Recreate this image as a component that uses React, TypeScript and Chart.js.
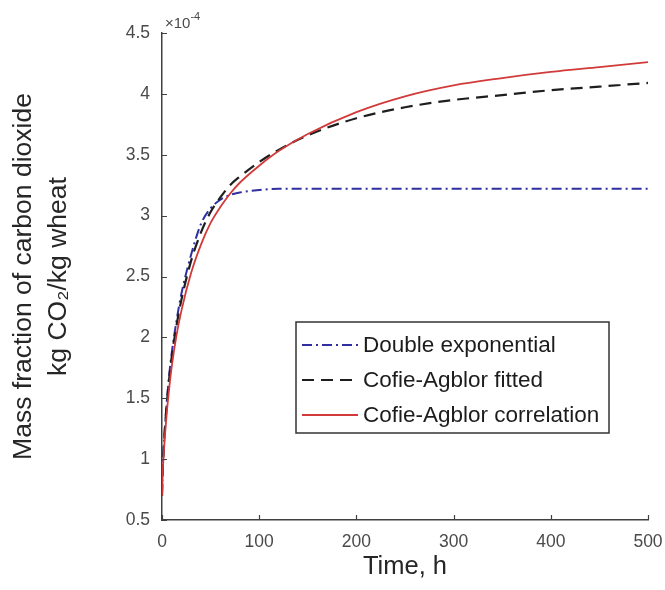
import React, { useEffect, useRef } from 'react';
import { Chart, registerables } from 'chart.js';

Chart.register(...registerables);

// Time, h
const timeH = [0, 0.5, 1, 2, 3, 5, 7.5, 10, 15, 20, 30, 40, 50, 60, 70, 80, 100, 120, 150, 200, 250, 300, 350, 400, 450, 500];
// Mass fraction of CO2, in units of 1e-4 kg CO2/kg wheat
const doubleExponential = [0.70, 0.86, 0.97, 1.13, 1.26, 1.48, 1.70, 1.87, 2.14, 2.36, 2.68, 2.93, 3.06, 3.13, 3.17, 3.19, 3.21, 3.22, 3.22, 3.22, 3.22, 3.22, 3.22, 3.22, 3.22, 3.22];
const cofieFitted = [0.70, 0.86, 0.96, 1.12, 1.25, 1.46, 1.67, 1.84, 2.10, 2.31, 2.63, 2.86, 3.03, 3.15, 3.25, 3.32, 3.44, 3.54, 3.66, 3.80, 3.89, 3.95, 3.99, 4.03, 4.06, 4.09];
const cofieCorrelation = [0.70, 0.83, 0.93, 1.07, 1.19, 1.39, 1.59, 1.76, 2.02, 2.22, 2.53, 2.76, 2.94, 3.07, 3.18, 3.27, 3.41, 3.53, 3.67, 3.85, 3.98, 4.07, 4.13, 4.18, 4.22, 4.26];

const seriesLabels = ['Double exponential', 'Cofie-Agblor fitted', 'Cofie-Agblor correlation'];
const xTicks = [0, 100, 200, 300, 400, 500];
const yTicks = [0.5, 1, 1.5, 2, 2.5, 3, 3.5, 4, 4.5];
const yExponent = '-4';

const FONT = '"Liberation Sans", Arial, Helvetica, sans-serif';
const AXIS_COLOR = '#404040';
const TICK_TEXT = '#4a4a4a';

const styles = [
  { color: '#2f2fa0', dash: [10, 4, 2, 4], width: 2 },
  { color: '#1e1e1e', dash: [12, 7], width: 2.2 },
  { color: '#d23a3a', dash: [] as number[], width: 1.8 },
];

const extrasPlugin = {
  id: 'extras',
  afterDraw(chart: any) {
    const ctx = chart.ctx;
    const xs = chart.scales.x;
    const ys = chart.scales.y;
    const area = chart.chartArea;
    ctx.save();
    // inward tick marks
    ctx.strokeStyle = AXIS_COLOR;
    ctx.lineWidth = 1.2;
    ctx.beginPath();
    xTicks.forEach((v) => {
      const px = Math.round(xs.getPixelForValue(v)) + 0.5;
      ctx.moveTo(px, area.bottom);
      ctx.lineTo(px, area.bottom - 5);
    });
    yTicks.forEach((v) => {
      const py = Math.round(ys.getPixelForValue(v)) + 0.5;
      ctx.moveTo(area.left, py);
      ctx.lineTo(area.left + 5, py);
    });
    ctx.stroke();

    // exponent label
    ctx.fillStyle = TICK_TEXT;
    ctx.textBaseline = 'alphabetic';
    ctx.textAlign = 'left';
    ctx.font = `15px ${FONT}`;
    const baseTxt = '\u00d710';
    ctx.fillText(baseTxt, area.left + 3, area.top - 5);
    const w = ctx.measureText(baseTxt).width;
    ctx.font = `11px ${FONT}`;
    ctx.fillText(yExponent, area.left + 3 + w, area.top - 13);

    // legend box
    const lx = 296, ly = 322, lw = 313, lh = 111;
    ctx.fillStyle = '#ffffff';
    ctx.fillRect(lx, ly, lw, lh);
    ctx.strokeStyle = '#333333';
    ctx.lineWidth = 1.5;
    ctx.strokeRect(lx, ly, lw, lh);
    const rowY = [345, 380, 415];
    chart.data.datasets.forEach((ds: any, i: number) => {
      const y = rowY[i];
      ctx.strokeStyle = ds.borderColor;
      ctx.lineWidth = ds.borderWidth;
      ctx.setLineDash(ds.borderDash || []);
      ctx.beginPath();
      ctx.moveTo(lx + 6, y);
      ctx.lineTo(lx + 62, y);
      ctx.stroke();
      ctx.setLineDash([]);
      ctx.fillStyle = '#1c1c1c';
      ctx.font = `22.5px ${FONT}`;
      ctx.textBaseline = 'middle';
      ctx.fillText(ds.label, lx + 67, y + 1);
    });
    ctx.restore();
  },
};

export default function App() {
  const ref = useRef<HTMLCanvasElement>(null);
  useEffect(() => {
    if (!ref.current) return;
    const mk = (vals: number[]) => timeH.map((t, i) => ({ x: t, y: vals[i] }));
    const all = [doubleExponential, cofieFitted, cofieCorrelation];
    const chart = new Chart(ref.current, {
      type: 'line',
      data: {
        datasets: all.map((vals, i) => ({
          label: seriesLabels[i],
          data: mk(vals),
          borderColor: styles[i].color,
          borderDash: styles[i].dash,
          borderWidth: styles[i].width,
          pointRadius: 0,
          fill: false,
          cubicInterpolationMode: 'monotone' as const,
          order: 2 - i,
        })),
      },
      options: {
        responsive: false,
        animation: false,
        layout: { padding: { left: 0, top: 33, right: 17, bottom: 0 } },
        plugins: { legend: { display: false }, tooltip: { enabled: false } },
        scales: {
          x: {
            type: 'linear',
            min: 0,
            max: 500,
            afterBuildTicks: (s: any) => { s.ticks = xTicks.map((v) => ({ value: v })); },
            afterFit: (s: any) => { s.height = 70; s.paddingRight = 0; s.paddingLeft = 0; },
            grid: { display: false, drawTicks: false },
            border: { display: true, color: AXIS_COLOR, width: 1.5 },
            ticks: { color: TICK_TEXT, font: { family: FONT, size: 17.5 }, padding: 12, maxRotation: 0, callback: (v: any) => String(v) },
            title: { display: true, text: 'Time, h', color: '#262626', font: { family: FONT, size: 25.5 }, padding: { top: 0, bottom: 8 } },
          },
          y: {
            type: 'linear',
            min: 0.5,
            max: 4.5,
            afterBuildTicks: (s: any) => { s.ticks = yTicks.map((v) => ({ value: v })); },
            afterFit: (s: any) => { s.width = 162; },
            grid: { display: false, drawTicks: false },
            border: { display: true, color: AXIS_COLOR, width: 1.5 },
            ticks: { color: TICK_TEXT, font: { family: FONT, size: 17.5 }, padding: 12, callback: (v: any) => String(v) },
            title: {
              display: true,
              text: ['Mass fraction of carbon dioxide', 'kg CO\u2082/kg wheat'],
              color: '#262626',
              font: { family: FONT, size: 26.5, lineHeight: 1.33 },
              padding: { top: 6, bottom: 0 },
            },
          },
        },
      },
      plugins: [extrasPlugin],
    });
    return () => chart.destroy();
  }, []);
  return (
    <div style={{ position: 'fixed', left: 0, top: 0, width: 665, height: 590, background: '#fff' }}>
      <canvas ref={ref} width={665} height={590} />
    </div>
  );
}
